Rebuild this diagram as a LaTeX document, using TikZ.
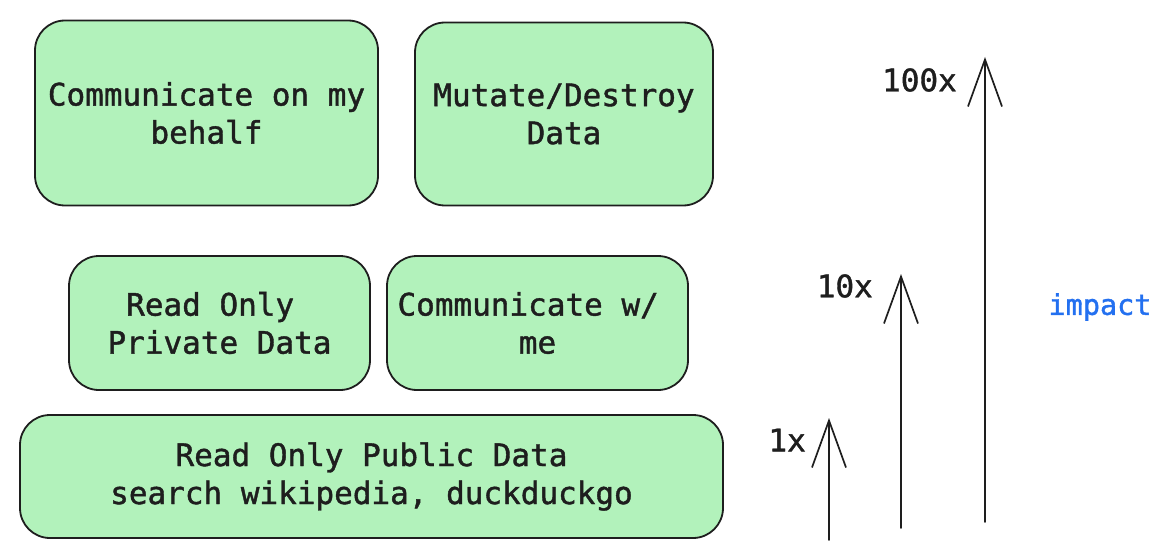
\documentclass[tikz,border=0pt]{standalone}
\usepackage{fontspec}
\setmonofont[FakeBold=1.3]{DejaVu Sans Mono}
\usetikzlibrary{arrows.meta}
\definecolor{ink}{HTML}{1E1E1E}
\definecolor{boxgreen}{HTML}{B2F2BB}
\definecolor{impactblue}{HTML}{2370F0}
\tikzset{
  card/.style={draw=ink, fill=boxgreen, line width=1.8pt, rounded corners=30pt,
    align=center, text=ink, inner sep=0pt,
    font=\ttfamily\fontsize{31pt}{38pt}\selectfont},
  lvl/.style={draw=ink, line width=1.7pt, line cap=round,
    -{Straight Barb[length=47pt, width=34pt, line width=1.7pt]}},
  lbl/.style={text=ink, inner sep=0pt, anchor=east,
    font=\ttfamily\fontsize{31pt}{38pt}\selectfont}
}
\begin{document}
\begin{tikzpicture}[x=1pt, y=-1pt]
\useasboundingbox (0,0) rectangle (1173,559);
\node[card, minimum width=343pt, minimum height=185pt] (behalf) at (206.5,113) {Communicate on my\\behalf};
\node[card, minimum width=298pt, minimum height=183pt] (mutate) at (564,114) {Mutate/Destroy\\Data};
\node[card, minimum width=301pt, minimum height=134pt] (private) at (219.5,323) {Read Only\hphantom{x}\\Private Data};
\node[card, minimum width=301pt, minimum height=134pt] (withme) at (537.5,323) {Communicate w/\hphantom{x}\\me};
\node[card, minimum width=703pt, minimum height=123pt] (public) at (371.5,476.5) {\raisebox{-3pt}{Read Only Public Data}\\\raisebox{-3pt}{search wikipedia, duckduckgo}};

\coordinate (a1b) at (829,540);
\coordinate (a1t) at (829,418);
\coordinate (a2b) at (901,528);
\coordinate (a2t) at (901,274);
\coordinate (a3b) at (985,522);
\coordinate (a3t) at (985,57);
\draw[lvl] (a1b) -- (a1t);
\draw[lvl] (a2b) -- (a2t);
\draw[lvl] (a3b) -- (a3t);

\node[lbl] (l1) at (806,440) {1x};
\node[lbl] (l10) at (873,286) {10x};
\node[lbl] (l100) at (957,80) {100x};
\node[text=impactblue, inner sep=0pt, font=\ttfamily\fontsize{28.5pt}{34pt}\selectfont] (impact) at (1100,307) {impact};
\end{tikzpicture}
\end{document}
